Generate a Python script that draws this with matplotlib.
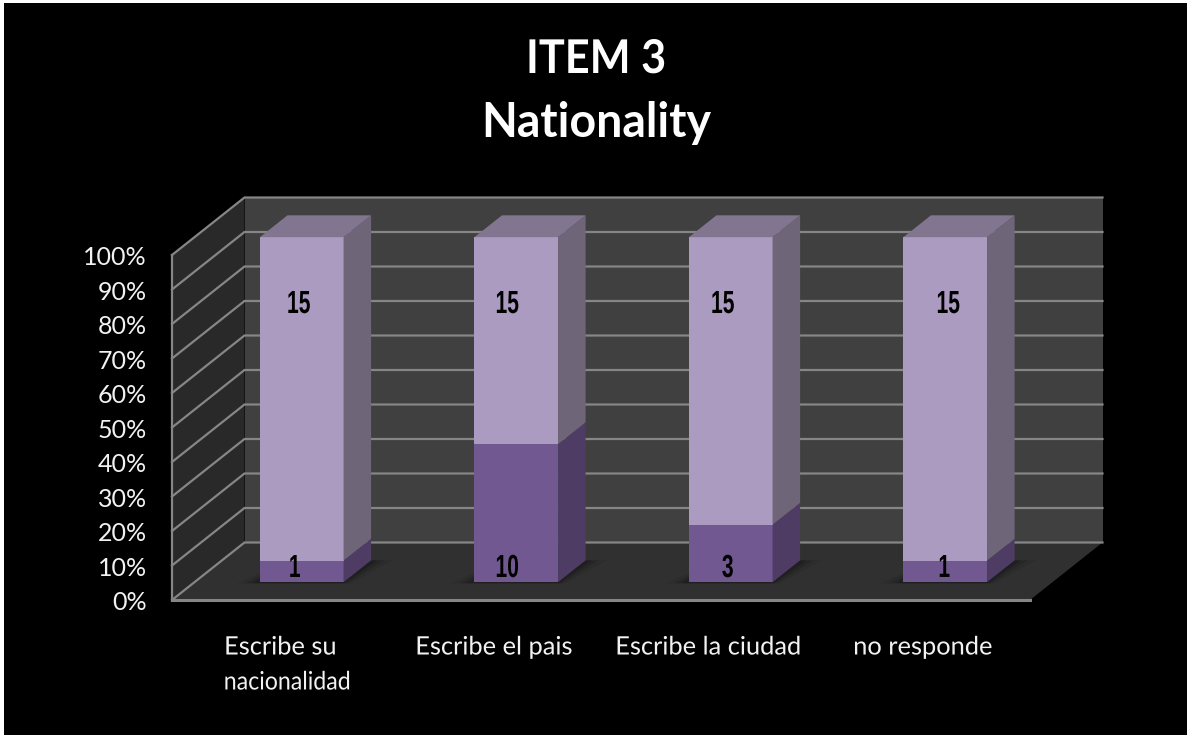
import matplotlib
matplotlib.use("Agg")
import matplotlib.pyplot as plt
from matplotlib.patches import Polygon, Rectangle
from matplotlib.patheffects import AbstractPathEffect
from matplotlib.transforms import Affine2D

categories = [["Escribe su", "nacionalidad"], ["Escribe el pais"], ["Escribe la ciudad"], ["no responde"]]
lower_values = [1, 10, 3, 1]
upper_values = [15, 15, 15, 15]
pct_ticks = [0, 10, 20, 30, 40, 50, 60, 70, 80, 90, 100]
title_lines = ["ITEM 3", "Nationality"]

# oblique projection geometry (pixels)
X0, Y0 = 172, 600
PLOT_W = 858
PLOT_H = 345
DX, DY = 72.5, -57.5
BAR_W = 0.39
D_FRONT, D_BACK = 0.31, 0.69
UP_LABEL_DX = [-3, -9, -8, 3]
LO_LABEL_DX = [-7, -9, -3, -1]
CAT_LINE_DX = [[1, 8], [0], [0], [0]]
CAT_LINE_SQUEEZE = [[1.0, 0.91], [1.0], [1.0], [1.0]]
CAT_LINE_Y = [647, 682]

W, H = 1187, 735
fig = plt.figure(figsize=(W / 100, H / 100), dpi=100, facecolor="white")
ax = fig.add_axes([0, 0, 1, 1])
ax.set_xlim(0, W)
ax.set_ylim(H, 0)
ax.axis("off")
ax.add_patch(Rectangle((4, 3), W, H, fc="black", ec="none", zorder=0))


class Condense(AbstractPathEffect):
    """Draw text narrower than the font, about its horizontal centre."""

    def __init__(self, factor, cx_px):
        super().__init__()
        self.factor = factor
        self.cx_px = cx_px

    def draw_path(self, renderer, gc, tpath, affine, rgbFace=None):
        squeeze = Affine2D().translate(-self.cx_px, 0).scale(self.factor, 1).translate(self.cx_px, 0)
        renderer.draw_path(gc, tpath, affine + squeeze, rgbFace)


def P(cat, pct, depth):
    """cat in 0..4 along the category axis, pct 0..100, depth 0..1."""
    return (X0 + cat / 4 * PLOT_W + depth * DX,
            Y0 - pct / 100 * PLOT_H + depth * DY)


def poly(pts, color, z=1, alpha=1.0):
    ax.add_patch(Polygon(pts, closed=True, fc=color, ec="none", zorder=z, alpha=alpha))


# walls and floor
poly([P(0, 0, 1), P(4, 0, 1), P(4, 100, 1), P(0, 100, 1)], "#404040", 1)
poly([P(0, 0, 0), P(0, 0, 1), P(0, 100, 1), P(0, 100, 0)], "#292929", 1)
poly([P(0, 0, 0), P(4, 0, 0), P(4, 0, 1), P(0, 0, 1)], "#303030", 1)

grid = "#868686"
for t in pct_ticks:
    xs, ys = zip(P(0, t, 0), P(0, t, 1), P(4, t, 1))
    ax.plot(xs, ys, color=grid, lw=1.6, zorder=2, solid_joinstyle="miter")
    ax.text(147, Y0 - t / 100 * PLOT_H + 2.5, f"{t}%", ha="right", va="center",
            color="#f2f2f2", fontsize=18, family="Lato", zorder=6)
xs, ys = zip(P(0, 0, 0), P(4, 0, 0))
ax.plot(xs, ys, color=grid, lw=2.2, zorder=2)
xs, ys = zip(P(0, 0, 0), P(0, 100, 0))
ax.plot(xs, ys, color=grid, lw=1.6, zorder=2)


def box(c0, c1, p0, p1, front, side, top=None):
    poly([P(c0, p0, D_FRONT), P(c1, p0, D_FRONT), P(c1, p1, D_FRONT), P(c0, p1, D_FRONT)], front, 4)
    poly([P(c1, p0, D_FRONT), P(c1, p0, D_BACK), P(c1, p1, D_BACK), P(c1, p1, D_FRONT)], side, 4)
    if top:
        poly([P(c0, p1, D_FRONT), P(c1, p1, D_FRONT), P(c1, p1, D_BACK), P(c0, p1, D_BACK)], top, 4)


def bar_label(x, y, s):
    ax.text(x, y, s, ha="center", va="center", color="black", fontsize=23,
            fontweight="bold", family="Liberation Sans", zorder=7,
            path_effects=[Condense(0.66, x)])


for i, (lo, up) in enumerate(zip(lower_values, upper_values)):
    c0, c1 = i + 0.5 - BAR_W / 2, i + 0.5 + BAR_W / 2
    split = 100 * lo / (lo + up)
    # soft floor shadow
    for grow, a in [(0.10, 0.08), (0.06, 0.12), (0.03, 0.16)]:
        poly([P(c0 - grow, 0, D_FRONT - 0.02), P(c1 + grow * 0.4, 0, D_FRONT - 0.02),
              P(c1 + grow, 0, D_BACK), P(c0, 0, D_BACK)], "#000000", 3, a)
    box(c0, c1, 0, split, "#725891", "#4e3c65")
    box(c0, c1, split, 100, "#ac9bc1", "#6f6579", "#827590")
    cx = P(i + 0.5, 0, D_FRONT)[0]
    bar_label(cx + UP_LABEL_DX[i], 305, str(up))
    bar_label(cx + LO_LABEL_DX[i], 569, str(lo))
    for j, line in enumerate(categories[i]):
        lx = X0 + (i + 0.5) / 4 * PLOT_W + CAT_LINE_DX[i][j]
        ax.text(lx, CAT_LINE_Y[j], line, ha="center", va="center", color="#f2f2f2",
                fontsize=18.3, family="Lato", zorder=6,
                path_effects=[Condense(CAT_LINE_SQUEEZE[i][j], lx)])

ax.text(596, 59, title_lines[0], ha="center", va="center", color="white",
        fontsize=33.5, fontweight="bold", family="Lato", path_effects=[Condense(0.93, 596)])
ax.text(596, 123, title_lines[1], ha="center", va="center", color="white",
        fontsize=33.5, fontweight="bold", family="Lato")

fig.savefig("out.png", dpi=100, facecolor="white")
